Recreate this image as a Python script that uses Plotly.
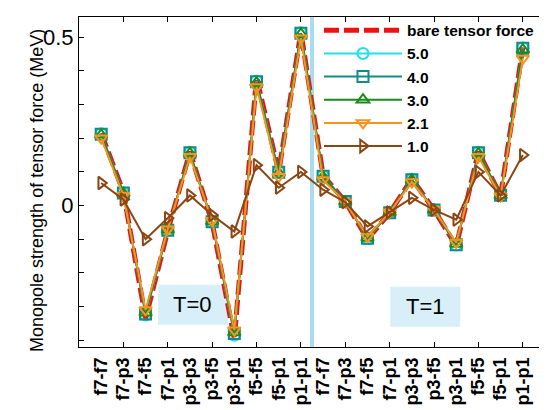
import plotly.graph_objects as go

categories = ["f7-f7", "f7-p3", "f7-f5", "f7-p1", "p3-p3", "p3-f5", "p3-p1", "f5-f5", "f5-p1", "p1-p1",
              "f7-f7", "f7-p3", "f7-f5", "f7-p1", "p3-p3", "p3-f5", "p3-p1", "f5-f5", "f5-p1", "p1-p1"]

bare = [0.215, 0.040, -0.335, -0.075, 0.160, -0.050, -0.395, 0.380, 0.100, 0.515,
        0.090, 0.012, -0.100, -0.022, 0.080, -0.013, -0.120, 0.160, 0.030, 0.470]
s50 = [0.213, 0.038, -0.325, -0.074, 0.158, -0.049, -0.385, 0.370, 0.100, 0.513,
       0.088, 0.012, -0.098, -0.022, 0.078, -0.013, -0.117, 0.158, 0.031, 0.468]
s40 = [0.212, 0.037, -0.322, -0.073, 0.157, -0.048, -0.380, 0.368, 0.099, 0.512,
       0.087, 0.012, -0.097, -0.021, 0.077, -0.013, -0.116, 0.157, 0.031, 0.467]
s30 = [0.210, 0.036, -0.318, -0.072, 0.155, -0.047, -0.377, 0.365, 0.097, 0.510,
       0.085, 0.011, -0.096, -0.021, 0.076, -0.013, -0.114, 0.155, 0.030, 0.463]
s21 = [0.200, 0.030, -0.310, -0.070, 0.145, -0.045, -0.370, 0.352, 0.086, 0.497,
       0.076, 0.010, -0.092, -0.020, 0.070, -0.012, -0.110, 0.145, 0.028, 0.437]
s10 = [0.067, 0.018, -0.100, -0.037, 0.030, -0.028, -0.077, 0.120, 0.053, 0.100,
       0.047, 0.010, -0.062, -0.020, 0.023, -0.013, -0.042, 0.100, 0.030, 0.150]

x = list(range(len(categories)))
FONT = "Liberation Sans, Arial, sans-serif"

fig = go.Figure()
fig.add_trace(go.Scatter(x=x, y=bare, name="bare tensor force", mode="lines",
                         line=dict(color="#ee1111", width=5, dash="15px,5px")))
series = [
    ("5.0", s50, "#22e0e8", "circle-open"),
    ("4.0", s40, "#138a8a", "square-open"),
    ("3.0", s30, "#1a8c1a", "triangle-up-open"),
    ("2.1", s21, "#f7931e", "triangle-down-open"),
    ("1.0", s10, "#8b4513", "triangle-right-open"),
]
for name, ys, col, sym in series:
    fig.add_trace(go.Scatter(x=x, y=ys, name=name, mode="lines+markers",
                             line=dict(color=col, width=2),
                             marker=dict(symbol=sym, size=11, color=col,
                                         line=dict(width=2, color=col))))

# label axis (overlay) carrying category names
fig.add_trace(go.Scatter(x=[x[0]], y=[0], xaxis="x2", mode="markers",
                         marker=dict(opacity=0), showlegend=False, hoverinfo="skip"))

fig.add_shape(type="line", x0=9.5, x1=9.5, y0=0, y1=1, xref="x", yref="paper",
              line=dict(color="#a8dcf0", width=4), layer="below")
fig.add_shape(type="rect", x0=2.56, x1=5.71, y0=-0.354, y1=-0.235, xref="x", yref="y",
              fillcolor="#d8eef9", line=dict(width=0), layer="below")
fig.add_shape(type="rect", x0=13.03, x1=16.18, y0=-0.36, y1=-0.241, xref="x", yref="y",
              fillcolor="#d8eef9", line=dict(width=0), layer="below")
fig.add_annotation(x=(2.56 + 5.71) / 2, y=(-0.354 - 0.235) / 2, text="T=0", showarrow=False,
                   font=dict(family=FONT, size=22, color="black"))
fig.add_annotation(x=(13.03 + 16.18) / 2, y=(-0.36 - 0.241) / 2, text="T=1", showarrow=False,
                   font=dict(family=FONT, size=22, color="black"))
fig.add_annotation(x=-0.090, y=0.473, xref="paper", yref="paper", xanchor="center", yanchor="middle",
                   text="Monopole strength of tensor force (MeV)", textangle=-90, showarrow=False,
                   font=dict(family=FONT, size=18, color="black"))

fig.update_layout(
    width=539, height=402,
    margin=dict(l=71, r=2, t=9, b=63),
    paper_bgcolor="white", plot_bgcolor="white",
    font=dict(family=FONT, color="black"),
    showlegend=True,
    legend=dict(x=0.515, y=1.01, xanchor="left", yanchor="top", bgcolor="rgba(0,0,0,0)",
                font=dict(family=FONT, size=15.5, color="black", weight="bold"),
                itemwidth=78, tracegroupgap=0),
    xaxis=dict(range=[-1, 20], tickvals=list(range(1, 20, 2)), ticktext=[""] * 10,
               ticks="inside", ticklen=5, tickcolor="black", showline=True, linecolor="black",
               linewidth=1, mirror="ticks", showgrid=False, zeroline=False, automargin=False),
    xaxis2=dict(range=[-1, 20], overlaying="x", anchor="y", side="bottom",
                tickvals=x, ticktext=categories, tickangle=-90, ticks="",
                showline=False, showgrid=False, zeroline=False, automargin=False,
                ticklabelstandoff=6,
                tickfont=dict(family=FONT, size=18, color="black", weight="bold")),
    yaxis=dict(range=[-0.42, 0.56], tickvals=[0, 0.5], ticktext=["0", "0.5"],
               ticks="inside", ticklen=5, tickcolor="black", showline=True, linecolor="black",
               linewidth=1, mirror="ticks", showgrid=False, zeroline=False, automargin=False,
               tickfont=dict(family=FONT, size=22, color="black"),
               minor=dict(dtick=0.1, tick0=0, ticks="inside", ticklen=5, tickcolor="black")),
)

fig.write_html("out.html")
